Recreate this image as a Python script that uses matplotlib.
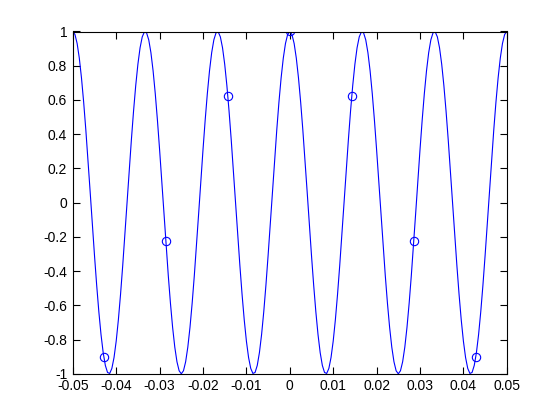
import numpy as np
import matplotlib
matplotlib.use('Agg')
import matplotlib.pyplot as plt

plt.rcParams['font.family'] = ['Liberation Sans', 'DejaVu Sans']

# continuous signal, t = -0.05 .. 0.05 step 0.0005
# quarter: t = 0 .. 0.025 (curve is mirrored about t=0.025 and about t=0)
t_step = 0.0005
quarter = [1.0000, 0.9823, 0.9298, 0.8443, 0.7290, 0.5878, 0.4258, 0.2487, 0.0628, -0.1253,
           -0.3090, -0.4818, -0.6374, -0.7705, -0.8763, -0.9511, -0.9921, -0.9980, -0.9686, -0.9048,
           -0.8090, -0.6845, -0.5358, -0.3681, -0.1874, 0.0000, 0.1874, 0.3681, 0.5358, 0.6845,
           0.8090, 0.9048, 0.9686, 0.9980, 0.9921, 0.9511, 0.8763, 0.7705, 0.6374, 0.4818,
           0.3090, 0.1253, -0.0628, -0.2487, -0.4258, -0.5878, -0.7290, -0.8443, -0.9298, -0.9823,
           -1.0000]
half = quarter + quarter[-2::-1]
y_line = half[:0:-1] + half
t_line = [t_step * k for k in range(-100, 101)]

# samples
t_samp = [-0.042857, -0.028571, -0.014286, 0.0, 0.014286, 0.028571, 0.042857]
y_samp = [-0.901, -0.2225, 0.6235, 1.0, 0.6235, -0.2225, -0.901]

xticks = [-0.05, -0.04, -0.03, -0.02, -0.01, 0, 0.01, 0.02, 0.03, 0.04, 0.05]
xlabels = ['-0.05', '-0.04', '-0.03', '-0.02', '-0.01', '0', '0.01', '0.02', '0.03', '0.04', '0.05']
yticks = [-1, -0.8, -0.6, -0.4, -0.2, 0, 0.2, 0.4, 0.6, 0.8, 1]
ylabels = ['-1', '-0.8', '-0.6', '-0.4', '-0.2', '0', '0.2', '0.4', '0.6', '0.8', '1']

fig = plt.figure(figsize=(5.6, 4.2), dpi=100)
ax = fig.add_axes([0.13, 0.11, 0.775, 0.815])
ax.plot(t_line, y_line, color='b', lw=0.8)
ax.plot(t_samp, y_samp, 'o', color='b', mfc='none', ms=6, mew=0.8)

ax.set_xlim(-0.05, 0.05)
ax.set_ylim(-1, 1)
ax.set_xticks(xticks)
ax.set_xticklabels(xlabels)
ax.set_yticks(yticks)
ax.set_yticklabels(ylabels)
ax.tick_params(direction='in', length=5, width=0.8, top=True, right=True, labelsize=10, pad=4)
for s in ax.spines.values():
    s.set_linewidth(0.8)

fig.savefig('out.png', dpi=100)
